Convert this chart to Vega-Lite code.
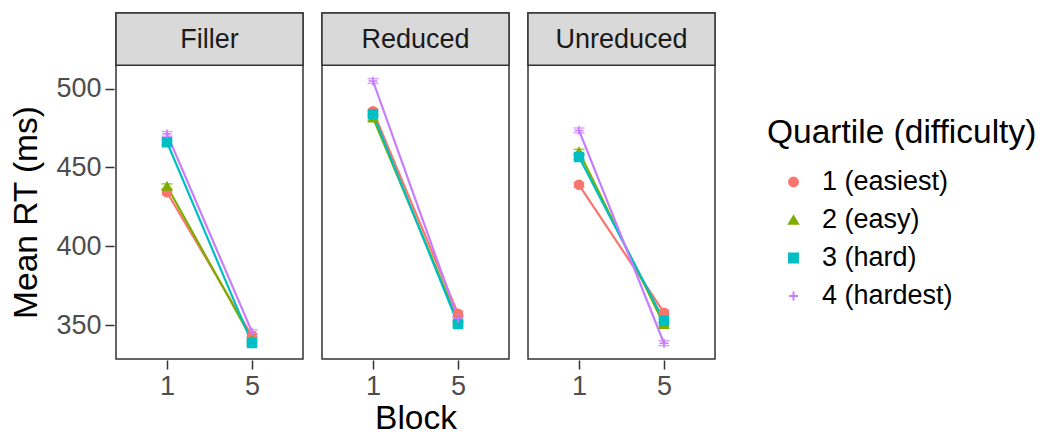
{
  "$schema": "https://vega.github.io/schema/vega-lite/v6.json",
  "padding": {"left": 9, "top": 11, "right": 5, "bottom": 0},
  "data": {"values": [
    {"Type": "Filler", "Block": "1", "Quartile": "1 (easiest)", "RT": 434.3, "lo": 432.8, "hi": 435.8},
    {"Type": "Filler", "Block": "1", "Quartile": "2 (easy)", "RT": 438.1, "lo": 436.6, "hi": 439.6},
    {"Type": "Filler", "Block": "1", "Quartile": "3 (hard)", "RT": 466.0, "lo": 464.5, "hi": 467.5},
    {"Type": "Filler", "Block": "1", "Quartile": "4 (hardest)", "RT": 471.3, "lo": 469.8, "hi": 472.8},
    {"Type": "Filler", "Block": "5", "Quartile": "1 (easiest)", "RT": 343.2, "lo": 341.8, "hi": 344.6},
    {"Type": "Filler", "Block": "5", "Quartile": "2 (easy)", "RT": 341.0, "lo": 339.6, "hi": 342.4},
    {"Type": "Filler", "Block": "5", "Quartile": "3 (hard)", "RT": 338.7, "lo": 337.3, "hi": 340.1},
    {"Type": "Filler", "Block": "5", "Quartile": "4 (hardest)", "RT": 345.8, "lo": 344.4, "hi": 347.2},
    {"Type": "Reduced", "Block": "1", "Quartile": "1 (easiest)", "RT": 485.6, "lo": 484.1, "hi": 487.1},
    {"Type": "Reduced", "Block": "1", "Quartile": "2 (easy)", "RT": 481.5, "lo": 480.0, "hi": 483.0},
    {"Type": "Reduced", "Block": "1", "Quartile": "3 (hard)", "RT": 483.8, "lo": 482.3, "hi": 485.3},
    {"Type": "Reduced", "Block": "1", "Quartile": "4 (hardest)", "RT": 504.8, "lo": 503.3, "hi": 506.3},
    {"Type": "Reduced", "Block": "5", "Quartile": "1 (easiest)", "RT": 357.3, "lo": 355.8, "hi": 358.8},
    {"Type": "Reduced", "Block": "5", "Quartile": "2 (easy)", "RT": 353.3, "lo": 351.8, "hi": 354.8},
    {"Type": "Reduced", "Block": "5", "Quartile": "3 (hard)", "RT": 350.8, "lo": 349.3, "hi": 352.3},
    {"Type": "Reduced", "Block": "5", "Quartile": "4 (hardest)", "RT": 354.3, "lo": 352.8, "hi": 355.8},
    {"Type": "Unreduced", "Block": "1", "Quartile": "1 (easiest)", "RT": 439.0, "lo": 437.5, "hi": 440.5},
    {"Type": "Unreduced", "Block": "1", "Quartile": "2 (easy)", "RT": 460.0, "lo": 458.5, "hi": 461.5},
    {"Type": "Unreduced", "Block": "1", "Quartile": "3 (hard)", "RT": 456.6, "lo": 455.1, "hi": 458.1},
    {"Type": "Unreduced", "Block": "1", "Quartile": "4 (hardest)", "RT": 473.5, "lo": 472.0, "hi": 475.0},
    {"Type": "Unreduced", "Block": "5", "Quartile": "1 (easiest)", "RT": 358.0, "lo": 356.5, "hi": 359.5},
    {"Type": "Unreduced", "Block": "5", "Quartile": "2 (easy)", "RT": 350.5, "lo": 349.0, "hi": 352.0},
    {"Type": "Unreduced", "Block": "5", "Quartile": "3 (hard)", "RT": 352.8, "lo": 351.3, "hi": 354.3},
    {"Type": "Unreduced", "Block": "5", "Quartile": "4 (hardest)", "RT": 338.6, "lo": 337.1, "hi": 340.1}
  ]},
  "facet": {
    "column": {
      "field": "Type", "type": "nominal", "title": "Block",
      "header": {"labels": false, "titleOrient": "bottom", "titleFontSize": 33.5, "titleFont": "Liberation Sans", "titleColor": "#000000", "titleFontWeight": "normal", "titlePadding": -6}
    }
  },
  "spacing": {"column": 15},
  "spec": {
    "width": 187,
    "height": 346,
    "encoding": {
      "x": {"field": "Block", "type": "ordinal", "scale": {"type": "point", "padding": 0.6}, "axis": {"title": null, "labelAngle": 0}},
      "y": {"type": "quantitative", "scale": {"domain": [328.6, 547.9], "nice": false, "zero": false}, "axis": {"title": "Mean RT (ms)", "values": [350, 400, 450, 500], "titleY": 199}}
    },
    "layer": [
      {
        "transform": [{"filter": "datum.Block == '1' && datum.Quartile == '1 (easiest)'"}],
        "mark": {"type": "rect", "fill": "#D9D9D9", "stroke": "#333333", "strokeWidth": 1.5},
        "encoding": {"x": null, "y": {"datum": 514.8, "type": "quantitative"}, "y2": {"datum": 547.9}}
      },
      {
        "transform": [{"filter": "datum.Block == '1' && datum.Quartile == '1 (easiest)'"}],
        "mark": {"type": "text", "fontSize": 27, "font": "Liberation Sans", "color": "#1A1A1A", "baseline": "middle", "align": "center"},
        "encoding": {"x": null, "y": {"datum": 531.0, "type": "quantitative"}, "text": {"field": "Type"}}
      },
      {
        "mark": {"type": "errorbar", "ticks": {"size": 11}, "thickness": 1.5},
        "encoding": {
          "y": {"field": "lo", "type": "quantitative"},
          "y2": {"field": "hi"},
          "color": {"field": "Quartile", "type": "nominal"}
        }
      },
      {
        "mark": {"type": "line", "strokeWidth": 2.2},
        "encoding": {
          "y": {"field": "RT", "type": "quantitative"},
          "color": {"field": "Quartile", "type": "nominal"}
        }
      },
      {
        "mark": {"type": "point", "filled": true, "size": 80, "strokeWidth": 1.5, "opacity": 1},
        "encoding": {
          "y": {"field": "RT", "type": "quantitative"},
          "color": {"field": "Quartile", "type": "nominal",
            "scale": {"domain": ["1 (easiest)", "2 (easy)", "3 (hard)", "4 (hardest)"], "range": ["#F8766D", "#7CAE00", "#00BFC4", "#C77CFF"]},
            "legend": {"title": "Quartile (difficulty)", "orient": "none", "legendX": 651, "legendY": 104,
              "encode": {"symbols": {"update": {"stroke": {"scale": "color", "field": "value"}, "strokeWidth": {"value": 2}, "opacity": {"value": 1}}}}}},
          "shape": {"field": "Quartile", "type": "nominal",
            "scale": {"domain": ["1 (easiest)", "2 (easy)", "3 (hard)", "4 (hardest)"], "range": ["circle", "triangle-up", "square", "M-1,0L1,0M0,-1L0,1"]},
            "legend": {"title": "Quartile (difficulty)"}},
          "stroke": {"field": "Quartile", "type": "nominal", "scale": {"domain": ["1 (easiest)", "2 (easy)", "3 (hard)", "4 (hardest)"], "range": ["#F8766D", "#7CAE00", "#00BFC4", "#C77CFF"]}, "legend": null}
        }
      }
    ]
  },
  "config": {
    "font": "Liberation Sans",
    "view": {"stroke": "#333333", "strokeWidth": 1.5},
    "axis": {
      "grid": false, "domain": false, "tickColor": "#333333", "tickWidth": 1.5, "tickSize": 9,
      "labelFontSize": 27, "labelColor": "#4D4D4D", "labelPadding": 4, "labelFont": "Liberation Sans",
      "titleFontSize": 33.5, "titleColor": "#000000", "titleFontWeight": "normal", "titleFont": "Liberation Sans", "titlePadding": 12
    },
    "legend": {
      "titleFontSize": 33.5, "titleFontWeight": "normal", "titleColor": "#000000", "titleFont": "Liberation Sans", "titleLimit": 0,
      "labelFontSize": 27, "labelColor": "#000000", "labelFont": "Liberation Sans", "labelLimit": 0,
      "symbolSize": 80, "symbolOffset": 13, "labelOffset": 15, "rowPadding": 10, "titlePadding": 18, "symbolStrokeWidth": 2, "symbolOpacity": 1
    }
  }
}
